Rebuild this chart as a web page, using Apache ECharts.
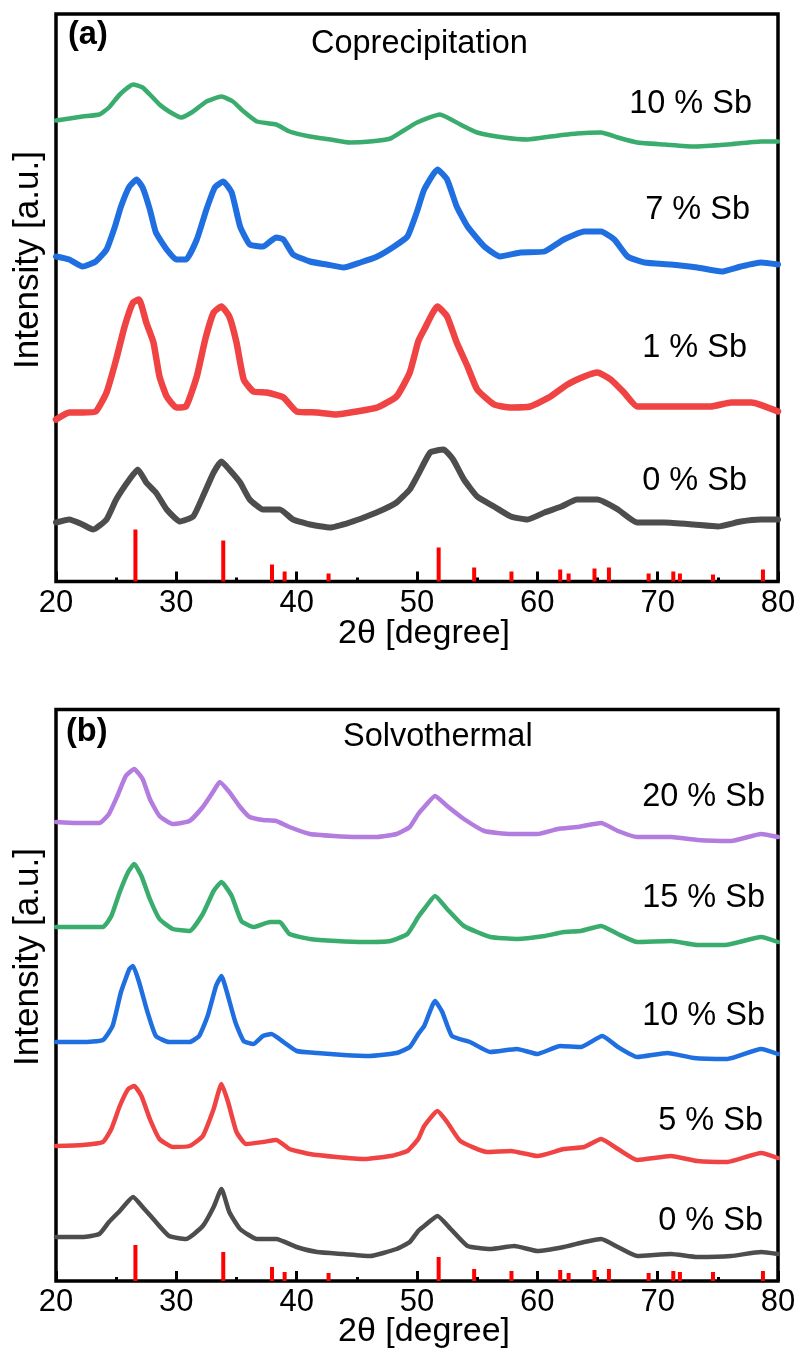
<!DOCTYPE html>
<html>
<head>
<meta charset="utf-8">
<script src="https://cdn.jsdelivr.net/npm/echarts@6/dist/echarts.min.js"></script>
<style>
html,body{margin:0;padding:0;background:#fff;}
#chart{width:801px;height:1353px;}
</style>
</head>
<body>
<div id="chart"></div>
<script>
// x ticks
const xTicks = [20, 30, 40, 50, 60, 70, 80];

// Reference (SnO2) stick pattern: positions [2θ] and relative heights
const refPos = [26.6, 33.9, 37.95, 39.0, 42.65, 51.8, 54.75, 57.85, 61.9, 62.6, 64.75, 65.95, 69.25, 71.3, 71.85, 74.6, 78.75];
const refHeightA = [52, 41, 17, 10, 8, 34, 14, 10, 12, 8, 13, 14, 8, 10, 8, 7, 12];
const refHeightB = [36, 29, 14, 9, 8, 24, 12, 10, 11, 8, 11, 12, 8, 10, 9, 9, 10];

// Panel (a) Coprecipitation, [2θ, intensity + offset]
const copSb10 = [[20,461],[22.2,465],[23.6,467],[24.4,474],[25.3,487],[26.4,497],[27.2,494],[27.8,487],[28.6,477],[29.4,470],[30.4,464],[31.4,470],[32.5,480],[33.75,485],[34.7,480],[35.6,470],[36.7,460],[38.3,457],[39.4,450],[41.1,445],[42.8,442],[44.4,439],[46.1,440],[47.8,443],[48.9,451],[50,459],[51.9,467],[53.6,457],[55,449],[57.2,444],[59.2,442],[61.1,445],[63.3,448],[65.3,449],[66.7,444],[68.3,439],[70.6,437],[73,435],[75.8,437],[78.6,440],[80,440]];
const copSb7 = [[20,325],[21.1,322],[22.2,315],[23.3,320],[24.2,332],[24.9,355],[25.4,375],[26.1,395],[26.7,402],[27.2,394],[27.8,372],[28.3,349],[29.2,332],[30,322],[30.8,322],[31.7,342],[32.5,372],[33.2,394],[33.9,400],[34.6,389],[35.3,355],[36.1,337],[37.2,335],[38.3,344],[38.9,342],[39.7,327],[41.1,320],[42.5,317],[43.9,314],[45.3,319],[46.7,325],[48.1,335],[49.2,345],[50,370],[50.6,392],[51.7,412],[52.5,402],[53.3,375],[54.2,355],[55.6,335],[56.9,325],[58.6,329],[60.6,330],[62.2,342],[63.9,350],[65.3,350],[66.4,342],[67.5,325],[68.9,319],[71.1,317],[73.3,314],[75.3,310],[76.9,315],[78.6,319],[80,317]];
const copSb1 = [[20,162],[21.1,169],[22.2,169],[23.3,170],[24.2,189],[25,222],[25.7,255],[26.4,279],[26.9,282],[27.5,259],[28.1,239],[28.6,205],[29.2,185],[30,174],[30.8,175],[31.7,205],[32.4,242],[33.1,269],[33.75,275],[34.4,265],[35,239],[35.6,202],[36.4,190],[37.5,189],[38.9,184],[40,170],[41.7,169],[43.3,167],[45,170],[46.7,174],[48.3,185],[49.4,209],[50.1,240],[50.6,252],[51.7,275],[52.5,265],[53.3,239],[54.2,215],[55,192],[56.4,177],[57.8,174],[59.4,175],[61.1,185],[62.5,197],[63.9,205],[65,209],[66.1,202],[67.2,189],[68.3,175],[70,175],[72.2,175],[74.4,175],[76.1,179],[77.8,179],[80,170]];
const copSb0 = [[20,59],[21.1,62],[22.2,57],[23.1,52],[24.2,62],[25,82],[26.1,102],[26.8,112],[27.5,99],[28.3,89],[29.2,72],[30.3,60],[31.4,65],[32.2,85],[33.1,109],[33.75,120],[34.4,112],[35.3,99],[36.1,82],[37.2,72],[38.6,72],[39.7,62],[41.1,57],[42.8,54],[44.4,59],[45.8,65],[47.2,72],[48.3,79],[49.4,92],[50.1,107],[51.1,129],[52.2,132],[53,122],[53.9,102],[55,85],[56.4,75],[57.8,65],[59.2,62],[60.6,69],[62,75],[63.3,82],[65,82],[66.7,72],[68.3,59],[70.6,59],[73,57],[75,55],[76.9,60],[78.6,62],[80,62]];

// Panel (b) Solvothermal
const solSb20 = [[20,459],[21.7,458],[23.6,458],[24.4,467],[25.1,485],[25.8,505],[26.5,512],[27.2,502],[27.8,482],[28.6,465],[29.7,457],[31.1,460],[32.2,474],[33.1,490],[33.6,499],[34.4,489],[35.3,474],[36.1,464],[37.2,461],[38.3,460],[39.4,454],[41.1,447],[43.1,445],[45,444],[46.7,444],[48.3,447],[49.4,454],[50.1,467],[50.6,474],[51.5,485],[52.5,475],[53.9,462],[55.6,450],[57.8,447],[60,447],[61.7,452],[63.3,454],[65.3,458],[66.7,450],[68.3,444],[71.1,444],[73.3,441],[76.1,440],[78.6,447],[80,444]];
const solSb15 = [[20,354],[22.2,354],[23.9,354],[24.6,365],[25.3,389],[26,409],[26.5,417],[27.1,405],[27.8,382],[28.6,362],[29.7,352],[31.1,350],[32.2,367],[33.1,390],[33.75,399],[34.6,385],[35.4,360],[36.4,354],[37.8,359],[38.6,359],[39.4,347],[41.1,342],[43.3,340],[45.6,339],[47.8,340],[49.2,347],[50.1,364],[50.6,372],[51.5,385],[52.5,372],[53.9,355],[56.1,344],[58.3,342],[60.6,345],[62.2,349],[63.6,350],[65.3,355],[66.7,347],[68.3,339],[71.1,340],[73.3,336],[75.6,336],[78.6,344],[80,339]];
const solSb10 = [[20,239],[22.2,239],[23.9,241],[24.7,255],[25.4,289],[26.1,312],[26.4,315],[26.9,299],[27.6,269],[28.3,245],[29.4,239],[31.1,239],[31.9,245],[32.6,265],[33.3,295],[33.75,305],[34.2,289],[34.9,259],[35.6,240],[36.4,237],[37.2,245],[37.9,247],[38.9,239],[40,230],[41.7,228],[43.9,226],[46.1,225],[48.3,228],[49.4,234],[50.1,247],[50.6,255],[51.5,280],[52.1,269],[52.9,245],[54.4,239],[56.1,229],[58.3,232],[60,227],[61.9,235],[63.6,234],[65.4,245],[66.7,234],[68.3,224],[70.8,228],[73,223],[75.8,222],[78.6,232],[80,227]];
const solSb5 = [[20,135],[22.2,136],[23.9,139],[24.6,152],[25.3,175],[26,192],[26.5,195],[27.1,185],[27.8,162],[28.6,142],[29.7,134],[31.1,135],[32.2,145],[33.1,172],[33.75,197],[34.3,179],[35,149],[35.8,137],[37.2,139],[38.3,141],[39.4,132],[41.1,127],[43.3,124],[45.6,122],[47.8,125],[49.2,130],[50.1,142],[50.6,155],[51.7,170],[52.5,159],[53.6,140],[55.8,129],[57.8,130],[60,125],[62.2,132],[63.9,134],[65.3,142],[66.7,132],[68.3,121],[71.1,125],[73.3,120],[75.8,119],[78.6,128],[80,123]];
const solSb0 = [[20,44],[22.2,44],[23.6,47],[24.4,59],[25.3,70],[26.4,84],[27.2,74],[28.3,59],[29.4,45],[30.8,42],[32.2,55],[33.1,74],[33.75,92],[34.4,69],[35.3,52],[36.7,42],[38.3,42],[40,34],[41.7,29],[43.9,27],[46.1,25],[48.3,32],[49.4,39],[50.1,50],[50.6,55],[51.7,65],[52.8,52],[54.2,35],[56.1,32],[58.1,35],[60,30],[62.2,34],[63.9,39],[65.3,42],[66.7,34],[68.3,25],[71.1,27],[73.3,24],[76.1,25],[78.6,29],[80,27]];

const labelsA = ['10 % Sb', '7 % Sb', '1 % Sb', '0 % Sb'];
const labelsB = ['20 % Sb', '15 % Sb', '10 % Sb', '5 % Sb', '0 % Sb'];

const C = {green:'#3aad6e', blue:'#1f6fe0', red:'#f04343', grey:'#4d4d4d', purple:'#b27ddf', stick:'#ff0000'};
const FONT = '"Liberation Sans", Arial, sans-serif';

const chart = echarts.init(document.getElementById('chart'), null, {renderer:'canvas'});

function xAxisCfg(gi){
  return {
    type:'value', gridIndex:gi, min:20, max:80, interval:10,
    axisLine:{show:false},
    axisTick:{show:true, inside:true, length:10, lineStyle:{color:'#000', width:3}},
    minorTick:{show:true, splitNumber:2, length:4, lineStyle:{color:'#000', width:3}},
    axisLabel:{show:true, color:'#000', fontSize:31, fontFamily:FONT, margin:6},
    splitLine:{show:false}
  };
}
function yAxisCfg(gi, max){
  return {type:'value', gridIndex:gi, min:0, max:max, show:false};
}
function line(data, color, width, gi){
  return {type:'line', xAxisIndex:gi, yAxisIndex:gi, data:data, showSymbol:false,
    smooth:0.15,
    lineStyle:{color:color, width:width, join:'round', cap:'round'}, silent:true, z:3};
}
function sticks(heights, gi){
  return {type:'bar', xAxisIndex:gi, yAxisIndex:gi, barWidth:4,
    data: refPos.map((p,i)=>[p, heights[i]]), itemStyle:{color:C.stick}, silent:true, z:2};
}
function txt(x, y, text, opts){
  return Object.assign({type:'text', x:x, y:y, silent:true, z:10,
    style:Object.assign({text:text, font:'32.5px ' + FONT, fill:'#000', textVerticalAlign:'middle'}, opts||{})});
}
function ytitle(y){
  return {type:'text', x:28, y:y, rotation:Math.PI/2, silent:true, z:10,
    style:{text:'Intensity [a.u.]', font:'35px ' + FONT, fill:'#000', textAlign:'center', textVerticalAlign:'middle'}};
}

const option = {
  animation:false,
  backgroundColor:'#fff',
  grid:[
    {left:56, right:23, top:14, height:567.5, show:true, borderColor:'#000', borderWidth:3.5, backgroundColor:'transparent'},
    {left:56, right:23, top:709.5, height:571.5, show:true, borderColor:'#000', borderWidth:3.5, backgroundColor:'transparent'}
  ],
  xAxis:[xAxisCfg(0), xAxisCfg(1)],
  yAxis:[yAxisCfg(0, 567.5), yAxisCfg(1, 571.5)],
  series:[
    sticks(refHeightA, 0),
    line(copSb10, C.green, 4.5, 0),
    line(copSb7, C.blue, 6, 0),
    line(copSb1, C.red, 6.5, 0),
    line(copSb0, C.grey, 6, 0),
    sticks(refHeightB, 1),
    line(solSb20, C.purple, 4.5, 1),
    line(solSb15, C.green, 4.5, 1),
    line(solSb10, C.blue, 4.5, 1),
    line(solSb5, C.red, 4.5, 1),
    line(solSb0, C.grey, 4.5, 1)
  ],
  graphic:[
    txt(68, 35, '(a)', {font:'bold 32.5px ' + FONT}),
    txt(311, 44, 'Coprecipitation'),
    txt(752, 104, labelsA[0], {textAlign:'right'}),
    txt(750, 210, labelsA[1], {textAlign:'right'}),
    txt(747, 348, labelsA[2], {textAlign:'right'}),
    txt(747, 481, labelsA[3], {textAlign:'right'}),
    txt(424, 634, '2θ [degree]', {textAlign:'center', font:'34px ' + FONT}),
    ytitle(260),
    txt(66, 732, '(b)', {font:'bold 32.5px ' + FONT}),
    txt(343, 737, 'Solvothermal'),
    txt(765, 797, labelsB[0], {textAlign:'right'}),
    txt(765, 898, labelsB[1], {textAlign:'right'}),
    txt(765, 1016, labelsB[2], {textAlign:'right'}),
    txt(763, 1121, labelsB[3], {textAlign:'right'}),
    txt(763, 1221, labelsB[4], {textAlign:'right'}),
    txt(424, 1332, '2θ [degree]', {textAlign:'center', font:'34px ' + FONT}),
    ytitle(957)
  ]
};
chart.setOption(option);
</script>
</body>
</html>
